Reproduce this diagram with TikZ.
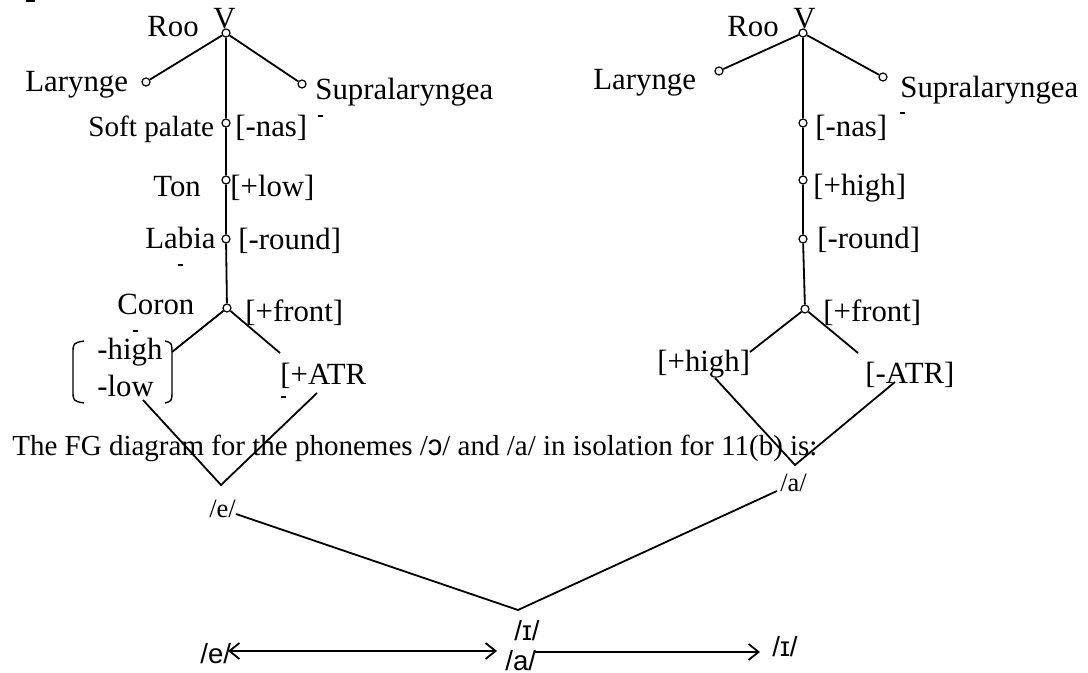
\documentclass[tikz,border=0pt]{standalone}
\usepackage{fontspec}
\setmainfont{Liberation Serif}
\newfontfamily\sansf{Liberation Sans}
\usetikzlibrary{arrows.meta}
\begin{document}
\begin{tikzpicture}[x=0.5pt,y=-0.5pt,
  dot/.style={circle,draw,fill=white,inner sep=0pt,minimum size=4pt,line width=0.6pt},
  edge/.style={line width=0.9pt},
  lbl/.style={inner sep=0pt,anchor=base west,font=\fontsize{15.4}{18}\selectfont},
  small/.style={inner sep=0pt,anchor=base west,font=\fontsize{14.6}{17}\selectfont},
  phon/.style={inner sep=0pt,anchor=base west,font=\fontsize{13.2}{15}\selectfont},
  sphon/.style={inner sep=0pt,anchor=base west,font=\sansf\fontsize{13.8}{16}\selectfont},
  tickmark/.style={line width=1pt},
  brk/.style={line width=0.7pt},
  barb/.tip={Straight Barb[length=5pt,width=8pt]},
]
\useasboundingbox (0,0) rectangle (1088,673);

% ---------- left tree ----------
\node[dot] (r1) at (226,33) {};
\node[dot] (l1) at (146,82) {};
\node[dot] (s1) at (302,84) {};
\node[dot] (sp1) at (226,123) {};
\node[dot] (t1) at (226,180) {};
\node[dot] (lb1) at (226,239) {};
\node[dot] (c1) at (227,308) {};
\draw[edge] (r1) -- (l1);
\draw[edge] (r1) -- (s1);
\draw[edge] (r1) -- (sp1) -- (t1) -- (lb1) -- (c1);

\node[lbl] (roo1) at (147,37) {Roo};
\node[lbl] (v1) at (213,29) {V};
\node[lbl] (lar1) at (25,92) {Larynge};
\node[lbl] (sup1) at (315,100) {Supralaryngea};
\node[small] (spl1) at (88,137) {Soft palate};
\node[lbl] (nas1) at (235,137) {[-nas]};
\node[lbl] (ton1) at (153,197) {Ton};
\node[lbl] (low1) at (230,197) {[+low]};
\node[lbl] (lab1) at (145,249) {Labia};
\node[lbl] (rnd1) at (238,250) {[-round]};
\node[lbl] (cor1) at (117,315) {Coron};
\node[lbl] (frt1) at (245,322) {[+front]};
\node[lbl] (hi1) at (97,360) {-high};
\node[lbl] (lo1) at (97,397) {-low};
\node[lbl] (atr1) at (280,385) {[+ATR};

\draw[tickmark] (26,1) -- (35,1);
\draw[tickmark] (318,116) -- (323,116);
\draw[tickmark] (178,265) -- (183,265);
\draw[tickmark] (133,331) -- (138,331);
\draw[tickmark] (281,397) -- (286,397);

\coordinate (b1) at (172,352);
\coordinate (a1) at (280,353);
\draw[edge] (c1) -- (b1);
\draw[edge] (c1) -- (a1);
\draw[brk] (84,341) .. controls (73,343) .. (73,354) -- (73,390) .. controls (73,401) .. (84,403);
\draw[brk] (165,341) .. controls (172,343) .. (172,354) -- (172,390) .. controls (172,401) .. (165,403);

\coordinate (vl1) at (143,400);
\coordinate (vv1) at (221,485);
\coordinate (vr1) at (317,393);
\draw[edge] (vl1) -- (vv1) -- (vr1);

% ---------- right tree ----------
\node[dot] (r2) at (803,33) {};
\node[dot] (l2) at (719,71) {};
\node[dot] (s2) at (883,77) {};
\node[dot] (n2) at (803,123) {};
\node[dot] (h2) at (803,180) {};
\node[dot] (rd2) at (803,239) {};
\node[dot] (f2) at (805,309) {};
\draw[edge] (r2) -- (l2);
\draw[edge] (r2) -- (s2);
\draw[edge] (r2) -- (n2) -- (h2) -- (rd2) -- (f2);

\node[lbl] (roo2) at (727,37) {Roo};
\node[lbl] (v2) at (793,29) {V};
\node[lbl] (lar2) at (593,90) {Larynge};
\node[lbl] (sup2) at (900,98) {Supralaryngea};
\node[lbl] (nas2) at (815,137) {[-nas]};
\node[lbl] (hig2) at (813,196) {[+high]};
\node[lbl] (rnd2) at (817,249) {[-round]};
\node[lbl] (frt2) at (823,322) {[+front]};
\node[lbl] (hh2) at (657,372) {[+high]};
\node[lbl] (atr2) at (865,384) {[-ATR]};
\draw[tickmark] (900,113) -- (905,113);

\coordinate (b2) at (750,352);
\coordinate (a2) at (858,353);
\draw[edge] (f2) -- (b2);
\draw[edge] (f2) -- (a2);
\coordinate (vl2) at (715,378);
\coordinate (vv2) at (795,465);
\coordinate (vr2) at (895,382);
\draw[edge] (vl2) -- (vv2) -- (vr2);

% ---------- sentence ----------
\node[inner sep=0pt,anchor=base west,font=\fontsize{14.5}{17}\selectfont] (sent) at (12,456)
  {The FG diagram for the phonemes /{\sansf ɔ}/ and /a/ in isolation for 11(b) is:};

% ---------- lower part ----------
\node[phon] (eup) at (209,518) {/e/};
\node[phon] (aup) at (780,492) {/a/};
\coordinate (eupr) at (236,514);
\coordinate (aupl) at (777,491);
\coordinate (bv) at (518,610);
\draw[edge] (eupr) -- (bv) -- (aupl);

\node[sphon] (imid) at (514,641) {/ɪ/};
\node[sphon] (amid) at (505,670) {/a/};
\node[sphon] (ebot) at (200,663) {/e/};
\node[sphon] (ibot) at (772,657) {/ɪ/};
\coordinate (da1) at (228,651);
\coordinate (da2) at (497,651);
\coordinate (sa1) at (535,652);
\coordinate (sa2) at (760,652);
\draw[edge,barb-barb] (da1) -- (da2);
\draw[edge,-barb] (sa1) -- (sa2);
\end{tikzpicture}
\end{document}
